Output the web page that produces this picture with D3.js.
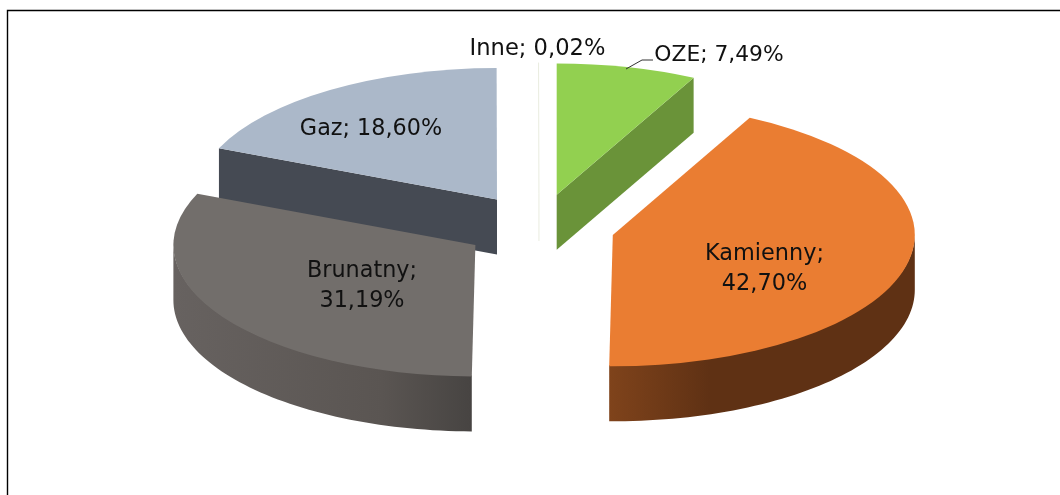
<!DOCTYPE html>
<html><head><meta charset="utf-8">
<script src="https://cdn.jsdelivr.net/npm/d3@7"></script>
<style>html,body{margin:0;padding:0;background:#fff}svg{display:block}</style>
</head><body><svg id="c" width="1060" height="495"></svg>
<script>
const categories = ["OZE","Kamienny","Brunatny","Gaz","Inne"];
const values = [7.49,42.70,31.19,18.60,0.02];
const valueLabels = ["7,49%","42,70%","31,19%","18,60%","0,02%"];
const topColors = ["#92d050","#ea7d32","#726e6b","#abb8c9","#e9ecdf"];
const wallStops = [["#6a9339","#6a9339"],["#7f431b","#5f3114"],["#6a6562","#474442"],["#454a53","#454a53"],["#e9ecdf","#e9ecdf"]];
const paintOrder = [3,4,0,1,2];

const W=1060,H=495,cx=539,cy=227,R=302,tilt=0.435,depth=55,explode=76;
const svg=d3.select("#c");
const defs=svg.append("defs");
defs.append("filter").attr("id","soft").attr("x","-5%").attr("y","-5%").attr("width","110%").attr("height","110%")
  .attr("color-interpolation-filters","sRGB")
  .append("feGaussianBlur").attr("stdDeviation",0.4);
const line=d3.line();
svg.append("path").attr("d",line([[7.5,495],[7.5,10.5],[1060,10.5]]))
  .attr("fill","none").attr("stroke","#000").attr("stroke-width",1.4);
const chart=svg.append("g").attr("filter","url(#soft)");
const slices=d3.pie().sort(null).value(d=>d)(values);
const rx=d3.scaleLinear().domain([-1,1]).range([-R,R]);
const ry=d3.scaleLinear().domain([-1,1]).range([-R*tilt,R*tilt]);
const px=(a,r=1)=>rx(Math.sin(a)*r), py=(a,r=1)=>ry(-Math.cos(a)*r);
const arc=d3.arc().innerRadius(0).outerRadius(R);
paintOrder.forEach(i=>{
  const s=slices[i];
  const mid=(s.startAngle+s.endAngle)/2;
  const ox=cx+px(mid,explode/R), oy=cy+py(mid,explode/R);
  const g=chart.append("g").attr("transform",`translate(${ox},${oy})`);
  const a0=s.startAngle,a1=s.endAngle;
  const face=a=>line([[0,0],[px(a),py(a)],[px(a),py(a)+depth],[0,depth]]);
  if(i===0) g.append("path").attr("d",face(a1)).attr("fill",wallStops[i][0]);
  if(i===3) g.append("path").attr("d",face(a0)).attr("fill",wallStops[i][0]);
  const lo=Math.max(a0,Math.PI/2), hi=Math.min(a1,Math.PI*1.5);
  if(hi>lo && i<3){
    const id="w"+i;
    const xs=[px(lo),px(hi)];
    const grad=defs.append("linearGradient").attr("id",id).attr("gradientUnits","userSpaceOnUse")
      .attr("x1",Math.min(...xs)).attr("x2",Math.max(...xs)).attr("y1",0).attr("y2",0);
    const stops=i===1?[[0,wallStops[i][0]],[.33,wallStops[i][1]],[1,wallStops[i][1]]]
      :[[0,"#676260"],[.7,"#5a5552"],[1,wallStops[i][1]]];
    stops.forEach(t=>grad.append("stop").attr("offset",t[0]).attr("stop-color",t[1]));
    const n=d3.range(0,61).map(k=>lo+(hi-lo)*k/60);
    const pts=n.map(a=>[px(a),py(a)-1]).concat(n.slice().reverse().map(a=>[px(a),py(a)+depth]));
    g.append("path").attr("d",line(pts)+"Z").attr("fill",`url(#${id})`);
  }
  if(i===4){
    g.append("path").attr("d",line([[px(a0),py(a0)],[0,0],[0,depth-8]])).attr("fill","none").attr("stroke",topColors[i]).attr("stroke-width",1);
  } else {
    g.append("path").attr("d",arc(s)).attr("transform",`scale(1,${tilt})`).attr("fill",topColors[i]);
  }
});
chart.append("path").attr("d",line([[626,69],[642,60],[653,60]])).attr("fill","none").attr("stroke","#333").attr("stroke-width",1);
const text=(x,y,t,fs)=>chart.append("text").attr("x",x).attr("y",y).attr("text-anchor","middle")
  .attr("font-family","'DejaVu Sans',sans-serif").attr("font-size",fs).attr("fill","#111").text(t);
const lab=i=>categories[i]+";";
text(537.5,55,lab(4)+" "+valueLabels[4],22.6);
text(719,61,lab(0)+" "+valueLabels[0],21.8);
text(371,135,lab(3)+" "+valueLabels[3],22.3);
text(362,277,lab(2),22.3); text(362,307,valueLabels[2],22.3);
text(764.5,260,lab(1),22.4); text(764.5,290,valueLabels[1],22.4);
</script></body></html>
